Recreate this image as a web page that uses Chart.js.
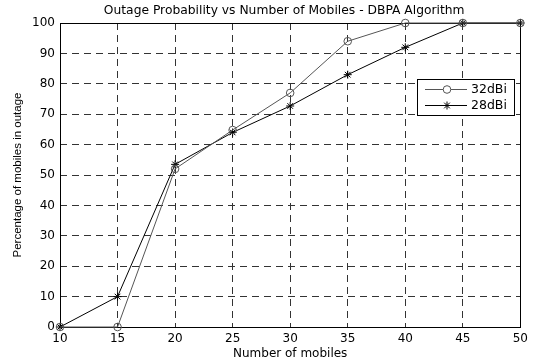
<!DOCTYPE html>
<html>
<head>
<meta charset="utf-8">
<script src="https://cdn.jsdelivr.net/npm/chart.js@4.4.1/dist/chart.umd.min.js"></script>
<style>
    html, body { margin: 0; padding: 0; background: #fff; }
    #wrap { width: 533px; height: 363px; position: relative; }
</style>
</head>
<body>
<div id="wrap"><canvas id="outageChart"></canvas></div>
<script>
// data
const mobiles = [10, 15, 20, 25, 30, 35, 40, 45, 50];
const outage32dBi = [0, 0, 52, 64.8, 77, 94, 100, 100, 100];
const outage28dBi = [0, 10, 53.5, 64, 72.7, 83, 92, 100, 100];
const seriesNames = ['32dBi', '28dBi'];
const chartTitle = 'Outage Probability vs Number of Mobiles - DBPA Algorithm';
const xAxisLabel = 'Number of mobiles';
const yAxisLabel = 'Percentage of mobiles in outage';

const FONT = 'DejaVu Sans';

function toPoints(xs, ys) {
    return xs.map(function (x, i) { return { x: x, y: ys[i] }; });
}

// title + frame + legend, matlab style
const matlabPlugin = {
    id: 'matlabStuff',
    beforeDatasetsDraw: function (chart) {
        const ctx = chart.ctx;
        const a = chart.chartArea;
        ctx.save();
        ctx.strokeStyle = '#000';
        ctx.lineWidth = 1;
        ctx.strokeRect(Math.round(a.left) + 0.5, Math.round(a.top) + 0.5,
            Math.round(a.right - a.left), Math.round(a.bottom - a.top));
        ctx.restore();
    },
    afterDatasetsDraw: function (chart) {
        const ctx = chart.ctx;
        const a = chart.chartArea;
        ctx.save();
        // title
        ctx.fillStyle = '#000';
        ctx.font = '12.3px "' + FONT + '"';
        ctx.textAlign = 'center';
        ctx.textBaseline = 'middle';
        ctx.fillText(chartTitle, (a.left + a.right) / 2 - 6, 11);

        // legend box
        const bx = 417, by = 79, bw = 97, bh = 36;
        ctx.fillStyle = '#fff';
        ctx.fillRect(bx, by, bw, bh);
        ctx.strokeStyle = '#000';
        ctx.lineWidth = 1;
        ctx.strokeRect(bx + 0.5, by + 0.5, bw, bh);
        ctx.font = '12.5px "' + FONT + '"';
        ctx.textAlign = 'left';
        chart.data.datasets.forEach(function (ds, i) {
            const y = by + 10 + i * 16;
            ctx.strokeStyle = ds.borderColor;
            ctx.lineWidth = ds.borderWidth;
            ctx.beginPath();
            ctx.moveTo(425, y + 0.5);
            ctx.lineTo(467, y + 0.5);
            ctx.stroke();
            Chart.helpers.drawPoint(ctx, {
                pointStyle: ds.pointStyle,
                radius: ds.pointRadius,
                borderWidth: 1,
                rotation: 0
            }, 447, y + 0.5);
            ctx.fillStyle = '#000';
            ctx.fillText(ds.label, 471, y + 1);
        });
        ctx.restore();
    }
};

const config = {
    type: 'line',
    data: {
        datasets: [
            {
                label: seriesNames[0],
                data: toPoints(mobiles, outage32dBi),
                borderColor: '#555',
                backgroundColor: 'transparent',
                pointStyle: 'circle',
                pointRadius: 3.8,
                pointBorderWidth: 1,
                borderWidth: 1,
                tension: 0,
                clip: false
            },
            {
                label: seriesNames[1],
                data: toPoints(mobiles, outage28dBi),
                borderColor: '#000',
                backgroundColor: 'transparent',
                pointStyle: 'star',
                pointRadius: 4,
                pointBorderWidth: 1,
                borderWidth: 1,
                tension: 0,
                clip: false
            }
        ]
    },
    plugins: [matlabPlugin],
    options: {
        responsive: true,
        maintainAspectRatio: false,
        animation: false,
        events: [],
        layout: {
            padding: { left: 0, top: 23, right: 12, bottom: 0 }
        },
        plugins: {
            legend: { display: false },
            title: { display: false },
            tooltip: { enabled: false }
        },
        scales: {
            x: {
                type: 'linear',
                min: 10,
                max: 50,
                afterFit: function (scale) { scale.height = 36; },
                ticks: {
                    stepSize: 5,
                    color: '#000',
                    padding: 5,
                    maxRotation: 0,
                    font: { family: FONT, size: 12 }
                },
                grid: {
                    color: '#333',
                    drawTicks: false,
                    lineWidth: 1
                },
                border: { display: false, dash: [7, 5] },
                title: {
                    display: true,
                    text: xAxisLabel,
                    color: '#000',
                    font: { family: FONT, size: 12 },
                    padding: { top: 0, bottom: 2 }
                }
            },
            y: {
                min: 0,
                max: 100,
                afterFit: function (scale) { scale.width = 60; },
                ticks: {
                    stepSize: 10,
                    color: '#000',
                    padding: 5,
                    font: { family: FONT, size: 12 }
                },
                grid: {
                    color: '#333',
                    drawTicks: false,
                    lineWidth: 1
                },
                border: { display: false, dash: [7, 5] },
                title: {
                    display: true,
                    text: yAxisLabel,
                    color: '#000',
                    font: { family: 'Liberation Sans', size: 11.5 },
                    padding: { top: 11, bottom: 0 }
                }
            }
        }
    }
};

new Chart(document.getElementById('outageChart'), config);
</script>
</body>
</html>
